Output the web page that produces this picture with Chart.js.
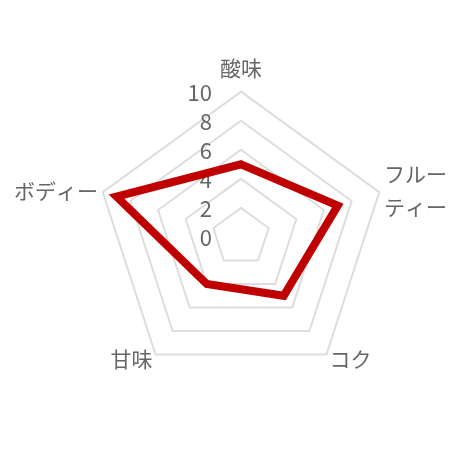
<!DOCTYPE html>
<html>
<head>
<meta charset="utf-8">
<script src="https://cdn.jsdelivr.net/npm/chart.js@4"></script>
<style>
  html, body { margin: 0; padding: 0; background: #fff; }
  #wrap { width: 460px; height: 460px; }
</style>
</head>
<body>
<div id="wrap"><canvas id="radar"></canvas></div>
<script>
// Axis labels and taste scores
const tasteLabels = ["酸味", ["フルー", "ティー"], "コク", "甘味", "ボディー"];
const tasteScores = [5, 7, 5, 4, 9];
const tickValues = [0, 2, 4, 6, 8, 10];

const FONT = "'Noto Sans CJK JP', 'Noto Sans', sans-serif";
const TEXT_GRAY = "#666";

// Tick labels: right-aligned just left of the vertical axis, under the data line
const leftTicks = {
  id: "leftTicks",
  beforeDatasetsDraw(chart) {
    const scale = chart.scales.r;
    const ctx = chart.ctx;
    ctx.save();
    ctx.font = "22px " + FONT;
    ctx.fillStyle = TEXT_GRAY;
    ctx.textAlign = "right";
    ctx.textBaseline = "middle";
    scale.ticks.forEach(t => {
      const y = scale.yCenter - scale.getDistanceFromCenterForValue(t.value) + 1;
      ctx.fillText(String(t.value), scale.xCenter - 29, y);
    });
    ctx.restore();
  }
};

// Point labels: vertically centred on their spoke (built-in ones are kept
// only for layout fitting and drawn transparent)
const centredPointLabels = {
  id: "centredPointLabels",
  afterDraw(chart) {
    const scale = chart.scales.r;
    const ctx = chart.ctx;
    const n = scale._pointLabels.length;
    ctx.save();
    ctx.font = "21px " + FONT;
    ctx.fillStyle = TEXT_GRAY;
    ctx.textBaseline = "middle";
    scale._pointLabels.forEach((label, i) => {
      const extra = i === 0 ? 24 : 5;
      const p = scale.getPointPosition(i, scale.drawingArea + extra);
      const deg = Math.round(i * 360 / n);
      ctx.textAlign = (deg === 0 || deg === 180) ? "center" : (deg < 180 ? "left" : "right");
      const lines = Array.isArray(label) ? label : [label];
      const spacing = 33;
      let y = p.y - (lines.length - 1) * spacing / 2;
      lines.forEach(line => {
        ctx.fillText(line, p.x, y);
        y += spacing;
      });
    });
    ctx.restore();
  }
};

new Chart(document.getElementById("radar"), {
  type: "radar",
  data: {
    labels: tasteLabels,
    datasets: [{
      data: tasteScores,
      borderColor: "#c00000",
      borderWidth: 8,
      fill: false,
      pointRadius: 0,
      pointHoverRadius: 0
    }]
  },
  options: {
    responsive: true,
    maintainAspectRatio: false,
    animation: false,
    layout: { padding: { left: 3, right: 3, bottom: 16 } },
    plugins: {
      legend: { display: false },
      tooltip: { enabled: false }
    },
    scales: {
      r: {
        min: 0,
        max: 10,
        afterBuildTicks(scale) {
          scale.ticks = tickValues.map(v => ({ value: v }));
        },
        ticks: { display: false },
        angleLines: { display: false },
        grid: { color: "#ddd", lineWidth: 2 },
        pointLabels: {
          color: "transparent",
          font: { family: FONT, size: 21 }
        }
      }
    }
  },
  plugins: [leftTicks, centredPointLabels]
});
</script>
</body>
</html>
